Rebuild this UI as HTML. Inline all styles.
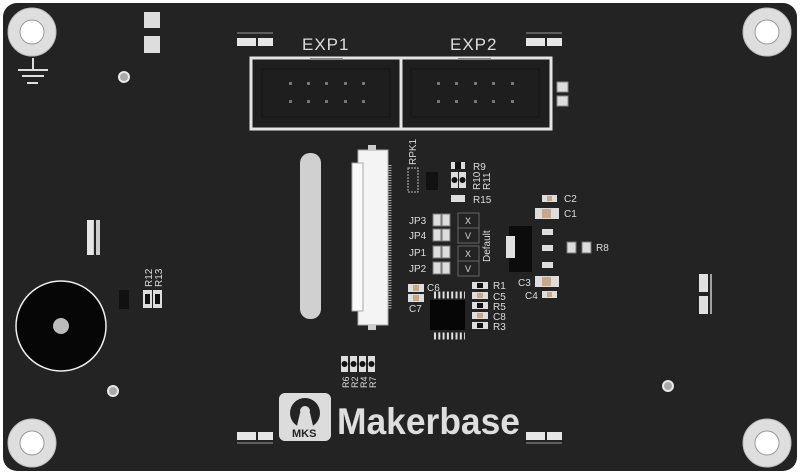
<!DOCTYPE html>
<html><head><meta charset="utf-8"><style>
html,body{margin:0;padding:0;background:#fff;}
svg{display:block;}
text{font-family:"Liberation Sans",Arial,sans-serif;fill:#dcdcdc;}
</style></head><body>
<svg width="800" height="476" viewBox="0 0 800 476" xmlns="http://www.w3.org/2000/svg">
<rect x="3" y="3" width="794" height="468" rx="14" fill="#232323"/>
<g fill="#dedede" stroke="#bbb" stroke-width="1">
<circle cx="32" cy="32" r="24"/><circle cx="767" cy="32" r="24"/>
<circle cx="32" cy="443" r="24"/><circle cx="767" cy="443" r="24"/>
</g>
<g fill="#fff" stroke="#999" stroke-width="1">
<circle cx="32" cy="32" r="12"/><circle cx="767" cy="32" r="12"/>
<circle cx="32" cy="443" r="12"/><circle cx="767" cy="443" r="12"/>
</g>
<g stroke="#ddd" stroke-width="2">
<line x1="33" y1="58" x2="33" y2="69"/>
<line x1="18" y1="70" x2="48" y2="70"/>
<line x1="22" y1="76" x2="44" y2="76"/>
<line x1="27" y1="83" x2="38" y2="83"/>
</g>
<g fill="#aaa" stroke="#e8e8e8" stroke-width="2">
<circle cx="124" cy="77" r="5"/><circle cx="113" cy="391" r="5"/><circle cx="668" cy="386" r="5"/>
</g>
<rect x="144" y="12" width="16" height="16" fill="#ddd"/>
<rect x="144" y="36" width="16" height="17" fill="#ddd"/>
<g fill="#e6e6e6">
<rect x="237" y="38" width="19" height="8"/><rect x="258" y="38" width="15" height="8"/>
<rect x="526" y="38" width="19" height="8"/><rect x="547" y="38" width="15" height="8"/>
<rect x="237" y="432" width="19" height="8"/><rect x="258" y="432" width="15" height="8"/>
<rect x="526" y="432" width="19" height="8"/><rect x="547" y="432" width="15" height="8"/>
</g>
<g stroke="#999" stroke-width="1">
<line x1="237" y1="33" x2="273" y2="33"/><line x1="526" y1="33" x2="562" y2="33"/>
<line x1="237" y1="443" x2="273" y2="443"/><line x1="526" y1="443" x2="562" y2="443"/>
</g>
<text x="302" y="50" font-size="17" letter-spacing="1">EXP1</text>
<text x="450" y="50" font-size="17" letter-spacing="1">EXP2</text>
<rect x="251" y="58" width="300" height="71" fill="#1e1e1e" stroke="#e4e4e4" stroke-width="3"/>
<line x1="401" y1="58" x2="401" y2="129" stroke="#e4e4e4" stroke-width="3"/>
<rect x="262" y="69" width="128" height="48" fill="none" stroke="#161616" stroke-width="1"/>
<rect x="411" y="69" width="128" height="48" fill="none" stroke="#161616" stroke-width="1"/>
<line x1="310" y1="59" x2="343" y2="59" stroke="#888" stroke-width="2"/>
<line x1="458" y1="59" x2="491" y2="59" stroke="#888" stroke-width="2"/>
<g fill="#777">
<rect x="289" y="82" width="3" height="3"/><rect x="307" y="82" width="3" height="3"/><rect x="325" y="82" width="3" height="3"/><rect x="344" y="82" width="3" height="3"/><rect x="362" y="82" width="3" height="3"/>
<rect x="289" y="100" width="3" height="3"/><rect x="307" y="100" width="3" height="3"/><rect x="325" y="100" width="3" height="3"/><rect x="344" y="100" width="3" height="3"/><rect x="362" y="100" width="3" height="3"/>
<rect x="437" y="82" width="3" height="3"/><rect x="455" y="82" width="3" height="3"/><rect x="474" y="82" width="3" height="3"/><rect x="492" y="82" width="3" height="3"/><rect x="511" y="82" width="3" height="3"/>
<rect x="437" y="100" width="3" height="3"/><rect x="455" y="100" width="3" height="3"/><rect x="474" y="100" width="3" height="3"/><rect x="492" y="100" width="3" height="3"/><rect x="511" y="100" width="3" height="3"/>
</g>
<rect x="557" y="82" width="11" height="10" fill="#ddd" stroke="#888"/>
<rect x="557" y="96" width="11" height="10" fill="#ddd" stroke="#888"/>
<rect x="300" y="153" width="21" height="166" rx="10" fill="#d0d0d0"/>
<rect x="358" y="150" width="30" height="175" fill="#f4f4f4" stroke="#aaa"/>
<rect x="352" y="163" width="11" height="148" fill="#fafafa" stroke="#aaa"/>
<rect x="368" y="145" width="8" height="6" fill="#ccc"/>
<rect x="368" y="324" width="8" height="6" fill="#ccc"/>
<line x1="390" y1="165" x2="390" y2="310" stroke="#aaa" stroke-width="3" stroke-dasharray="1,1.5"/>
<text transform="translate(416,165) rotate(-90)" font-size="10">RPK1</text>
<rect x="408" y="168" width="10" height="24" fill="none" stroke="#bbb" stroke-dasharray="2,1"/>
<rect x="426" y="172" width="12" height="18" fill="#111"/>
<rect x="451" y="162" width="14" height="7" fill="#ddd"/><rect x="455" y="162" width="6" height="7" fill="#111"/>
<text x="473" y="170" font-size="10">R9</text>
<rect x="451" y="172" width="7" height="16" fill="#ddd"/><rect x="459" y="172" width="7" height="16" fill="#ddd"/>
<circle cx="454.5" cy="180" r="3" fill="#111"/><circle cx="462.5" cy="180" r="3" fill="#111"/>
<text transform="translate(480,190) rotate(-90)" font-size="10">R10</text>
<text transform="translate(490,190) rotate(-90)" font-size="10">R11</text>
<rect x="451" y="195" width="14" height="7" fill="#ddd"/>
<text x="473" y="203" font-size="10">R15</text>
<g font-size="10">
<text x="409" y="224">JP3</text><text x="409" y="239">JP4</text><text x="409" y="256">JP1</text><text x="409" y="272">JP2</text>
</g>
<g fill="#ddd" stroke="#777">
<rect x="433" y="214" width="8" height="12"/><rect x="442" y="214" width="8" height="12"/>
<rect x="433" y="229" width="8" height="12"/><rect x="442" y="229" width="8" height="12"/>
<rect x="433" y="246" width="8" height="12"/><rect x="442" y="246" width="8" height="12"/>
<rect x="433" y="262" width="8" height="12"/><rect x="442" y="262" width="8" height="12"/>
</g>
<g fill="none" stroke="#666">
<rect x="458" y="213" width="21" height="15"/><rect x="458" y="228" width="21" height="15"/>
<rect x="458" y="246" width="21" height="15"/><rect x="458" y="261" width="21" height="15"/>
</g>
<g font-size="9"><text x="465" y="224">X</text><text x="465" y="239">V</text><text x="465" y="257">X</text><text x="465" y="272">V</text></g>
<text transform="translate(490,262) rotate(-90)" font-size="10">Default</text>
<rect x="408" y="284" width="16" height="8" fill="#ddd"/><rect x="413" y="285" width="6" height="6" fill="#c9a88a"/>
<rect x="408" y="294" width="16" height="8" fill="#ddd"/><rect x="413" y="295" width="6" height="6" fill="#c9a88a"/>
<text x="427" y="291" font-size="10">C6</text>
<text x="409" y="312" font-size="10">C7</text>
<rect x="430" y="300" width="35" height="30" fill="#060606"/>
<line x1="434" y1="295" x2="465" y2="295" stroke="#ddd" stroke-width="7" stroke-dasharray="2,2.3"/>
<line x1="434" y1="336" x2="465" y2="336" stroke="#ddd" stroke-width="7" stroke-dasharray="2,2.3"/>
<g fill="#ddd">
<rect x="472" y="282" width="16" height="7"/><rect x="472" y="292" width="16" height="7"/><rect x="472" y="302" width="16" height="7"/><rect x="472" y="312" width="16" height="7"/><rect x="472" y="322" width="16" height="7"/>
</g>
<rect x="477" y="283" width="6" height="5" fill="#111"/><rect x="477" y="293" width="6" height="5" fill="#c9a88a"/><rect x="477" y="303" width="6" height="5" fill="#111"/><rect x="477" y="313" width="6" height="5" fill="#c9a88a"/><rect x="477" y="323" width="6" height="5" fill="#111"/>
<g font-size="10"><text x="493" y="289">R1</text><text x="493" y="300">C5</text><text x="493" y="310">R5</text><text x="493" y="320">C8</text><text x="493" y="330">R3</text></g>
<rect x="509" y="226" width="23" height="46" fill="#0c0c0c"/>
<rect x="506" y="236" width="9" height="22" fill="#e0e0e0"/>
<g fill="#ddd"><rect x="542" y="229" width="11" height="6"/><rect x="542" y="245" width="11" height="6"/><rect x="542" y="262" width="11" height="6"/></g>
<rect x="567" y="242" width="9" height="11" fill="#ddd" stroke="#777"/><rect x="582" y="242" width="9" height="11" fill="#ddd" stroke="#777"/>
<text x="596" y="251" font-size="10">R8</text>
<rect x="542" y="195" width="15" height="7" fill="#ddd"/><rect x="547" y="196" width="5" height="5" fill="#c9a88a"/>
<text x="564" y="202" font-size="10">C2</text>
<rect x="535" y="208" width="24" height="11" fill="#ddd"/><rect x="542" y="209" width="9" height="9" fill="#c9a88a"/>
<text x="564" y="217" font-size="10">C1</text>
<rect x="535" y="276" width="24" height="11" fill="#ddd"/><rect x="542" y="277" width="9" height="9" fill="#c9a88a"/>
<text x="518" y="286" font-size="10">C3</text>
<rect x="542" y="291" width="15" height="7" fill="#ddd"/><rect x="547" y="292" width="5" height="5" fill="#c9a88a"/>
<text x="525" y="299" font-size="10">C4</text>
<rect x="699" y="274" width="9" height="18" fill="#e0e0e0"/><rect x="699" y="296" width="9" height="18" fill="#e0e0e0"/>
<line x1="711" y1="274" x2="711" y2="314" stroke="#ccc" stroke-width="1.5"/>
<rect x="87" y="220" width="8" height="35" fill="#e6e6e6"/><rect x="93" y="220" width="7" height="35" fill="#ccc"/>
<line x1="95" y1="220" x2="95" y2="255" stroke="#232323" stroke-width="2"/>
<rect x="119" y="290" width="10" height="19" fill="#111"/>
<text transform="translate(152,287) rotate(-90)" font-size="10">R12</text>
<text transform="translate(162,287) rotate(-90)" font-size="10">R13</text>
<rect x="143" y="290" width="9" height="18" fill="#ddd"/><rect x="153" y="290" width="9" height="18" fill="#ddd"/>
<rect x="145" y="294" width="5" height="10" fill="#111"/><rect x="155" y="294" width="5" height="10" fill="#111"/>
<circle cx="61" cy="326" r="45" fill="#060606" stroke="#eee" stroke-width="1.5"/>
<circle cx="61" cy="326" r="8" fill="#bbb"/>
<g fill="#ddd"><rect x="341" y="356" width="7" height="16"/><rect x="350" y="356" width="7" height="16"/><rect x="359" y="356" width="7" height="16"/><rect x="368" y="356" width="7" height="16"/></g>
<g fill="#111"><circle cx="344.5" cy="364" r="3"/><circle cx="353.5" cy="364" r="3"/><circle cx="362.5" cy="364" r="3"/><circle cx="371.5" cy="364" r="3"/></g>
<g font-size="9"><text transform="translate(349,388) rotate(-90)">R6</text><text transform="translate(358,388) rotate(-90)">R2</text><text transform="translate(367,388) rotate(-90)">R4</text><text transform="translate(376,388) rotate(-90)">R7</text></g>
<rect x="279" y="393" width="52" height="48" rx="6" fill="#dcdcdc"/>
<circle cx="305" cy="413" r="15" fill="#232323"/>
<path d="M300 413 L296 430 L314 430 L310 413 Z" fill="#dcdcdc"/>
<circle cx="305" cy="411" r="5" fill="#dcdcdc"/>
<text x="292" y="437" font-size="11" font-weight="bold" style="fill:#232323">MKS</text>
<text x="337" y="434" font-size="37" font-weight="bold" textLength="183" lengthAdjust="spacingAndGlyphs" style="fill:#dedede">Makerbase</text>
</svg>
</body></html>
